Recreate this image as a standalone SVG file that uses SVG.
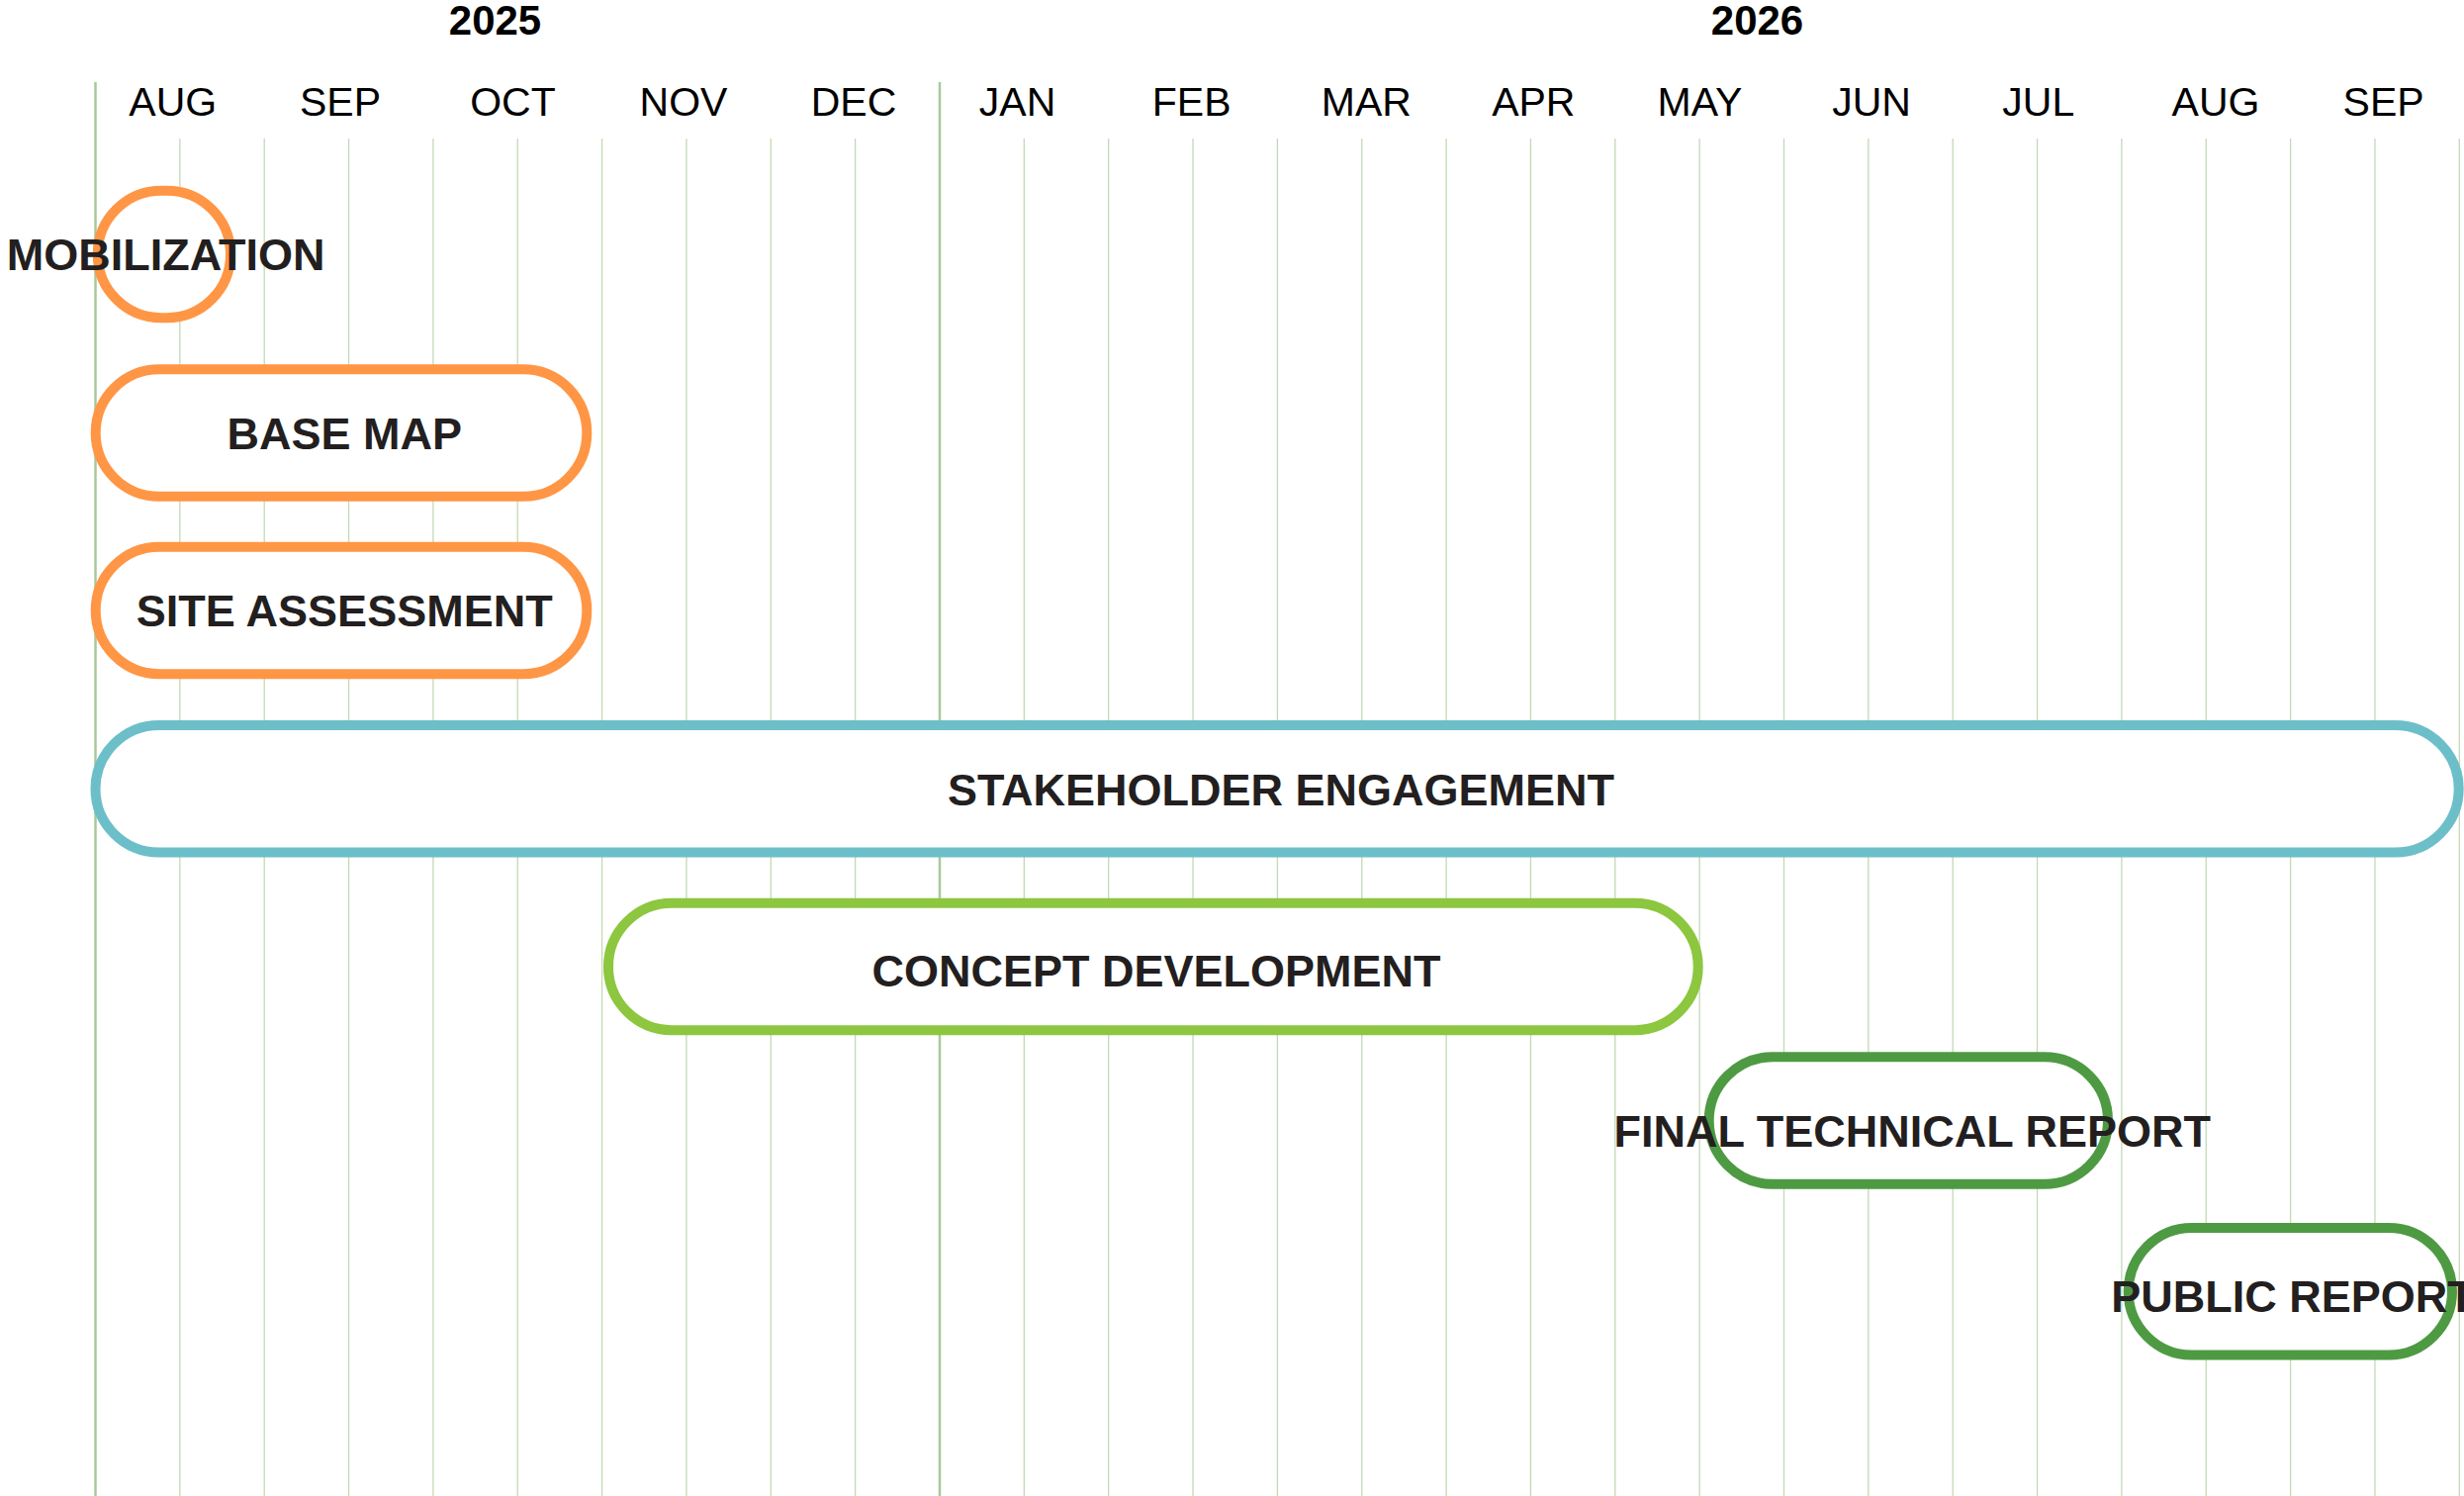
<svg xmlns="http://www.w3.org/2000/svg" width="2491" height="1512" viewBox="0 0 2491 1512">
<style>
.bg{fill:#ffffff}
.major{stroke:#a9c89b;stroke-width:2.5}
.minor{stroke:#c3d9b5;stroke-width:1.3}
.year{font-family:"Liberation Sans",Arial,sans-serif;font-weight:bold;font-size:42px;fill:#000;text-anchor:middle}
.month{font-family:"Liberation Sans",Arial,sans-serif;font-size:41px;fill:#000;text-anchor:middle}
.bar{fill:#ffffff;stroke-width:10}
.lbl{font-family:"Liberation Sans",Arial,sans-serif;font-weight:bold;font-size:45px;fill:#231f20;text-anchor:middle}
.orange{stroke:#ff9645}
.teal{stroke:#6cbfc8}
.lgreen{stroke:#8dc63f}
.dgreen{stroke:#4e9a43}
</style>
<rect class="bg" x="0" y="0" width="2491" height="1512"/>
<g id="grid">
<line class="minor" x1="181.85" y1="140" x2="181.85" y2="1512"/>
<line class="minor" x1="267.2" y1="140" x2="267.2" y2="1512"/>
<line class="minor" x1="352.55" y1="140" x2="352.55" y2="1512"/>
<line class="minor" x1="437.9" y1="140" x2="437.9" y2="1512"/>
<line class="minor" x1="523.25" y1="140" x2="523.25" y2="1512"/>
<line class="minor" x1="608.6" y1="140" x2="608.6" y2="1512"/>
<line class="minor" x1="693.95" y1="140" x2="693.95" y2="1512"/>
<line class="minor" x1="779.3" y1="140" x2="779.3" y2="1512"/>
<line class="minor" x1="864.65" y1="140" x2="864.65" y2="1512"/>
<line class="minor" x1="1035.35" y1="140" x2="1035.35" y2="1512"/>
<line class="minor" x1="1120.7" y1="140" x2="1120.7" y2="1512"/>
<line class="minor" x1="1206.05" y1="140" x2="1206.05" y2="1512"/>
<line class="minor" x1="1291.4" y1="140" x2="1291.4" y2="1512"/>
<line class="minor" x1="1376.75" y1="140" x2="1376.75" y2="1512"/>
<line class="minor" x1="1462.1" y1="140" x2="1462.1" y2="1512"/>
<line class="minor" x1="1547.45" y1="140" x2="1547.45" y2="1512"/>
<line class="minor" x1="1632.8" y1="140" x2="1632.8" y2="1512"/>
<line class="minor" x1="1718.15" y1="140" x2="1718.15" y2="1512"/>
<line class="minor" x1="1803.5" y1="140" x2="1803.5" y2="1512"/>
<line class="minor" x1="1888.85" y1="140" x2="1888.85" y2="1512"/>
<line class="minor" x1="1974.2" y1="140" x2="1974.2" y2="1512"/>
<line class="minor" x1="2059.55" y1="140" x2="2059.55" y2="1512"/>
<line class="minor" x1="2144.9" y1="140" x2="2144.9" y2="1512"/>
<line class="minor" x1="2230.25" y1="140" x2="2230.25" y2="1512"/>
<line class="minor" x1="2315.6" y1="140" x2="2315.6" y2="1512"/>
<line class="minor" x1="2400.95" y1="140" x2="2400.95" y2="1512"/>
<line class="minor" x1="2486.3" y1="140" x2="2486.3" y2="1512"/>
<line class="major" x1="96.5" y1="83" x2="96.5" y2="1512"/>
<line class="major" x1="950" y1="83" x2="950" y2="1512"/>
</g>
<g id="header">
<text class="year" x="500.5" y="35">2025</text>
<text class="year" x="1776.5" y="35">2026</text>
<text class="month" x="174.8" y="116.7">AUG</text>
<text class="month" x="344" y="116.7">SEP</text>
<text class="month" x="518.5" y="116.7">OCT</text>
<text class="month" x="691" y="116.7">NOV</text>
<text class="month" x="863" y="116.7">DEC</text>
<text class="month" x="1028.6" y="116.7">JAN</text>
<text class="month" x="1204.7" y="116.7">FEB</text>
<text class="month" x="1381.4" y="116.7">MAR</text>
<text class="month" x="1550.3" y="116.7">APR</text>
<text class="month" x="1718.4" y="116.7">MAY</text>
<text class="month" x="1892" y="116.7">JUN</text>
<text class="month" x="2060.8" y="116.7">JUL</text>
<text class="month" x="2240" y="116.7">AUG</text>
<text class="month" x="2409.6" y="116.7">SEP</text>
</g>
<g id="connectors"></g>
<g id="mobilization">
<rect class="bar orange" x="98.75" y="192.7" width="134.25" height="128.5" rx="64.25" ry="64.25"/>
<text class="lbl" x="167.6" y="273.3">MOBILIZATION</text>
</g>
<g id="base-map">
<rect class="bar orange" x="96.7" y="373.3" width="496.6" height="128.5" rx="64.25" ry="64.25"/>
<text class="lbl" x="348.3" y="454">BASE MAP</text>
</g>
<g id="site-assessment">
<rect class="bar orange" x="96.7" y="552.7" width="496.6" height="128.5" rx="64.25" ry="64.25"/>
<text class="lbl" x="348.2" y="633.3">SITE ASSESSMENT</text>
</g>
<g id="stakeholder-engagement">
<rect class="bar teal" x="96.5" y="733" width="2389.2" height="128.5" rx="64.25" ry="64.25"/>
<text class="lbl" x="1295" y="814">STAKEHOLDER ENGAGEMENT</text>
</g>
<g id="concept-development">
<rect class="bar lgreen" x="615" y="912.7" width="1101.7" height="128.5" rx="64.25" ry="64.25"/>
<text class="lbl" x="1169" y="997.3">CONCEPT DEVELOPMENT</text>
</g>
<g id="final-technical-report">
<rect class="bar dgreen" x="1727.7" y="1068.3" width="403.3" height="128.5" rx="64.25" ry="64.25"/>
<text class="lbl" x="1933.3" y="1159.3">FINAL TECHNICAL REPORT</text>
</g>
<g id="public-report">
<rect class="bar dgreen" x="2151.7" y="1241" width="327.3" height="128.5" rx="64.25" ry="64.25"/>
<text class="lbl" x="2318" y="1326">PUBLIC REPORT</text>
</g>
</svg>
